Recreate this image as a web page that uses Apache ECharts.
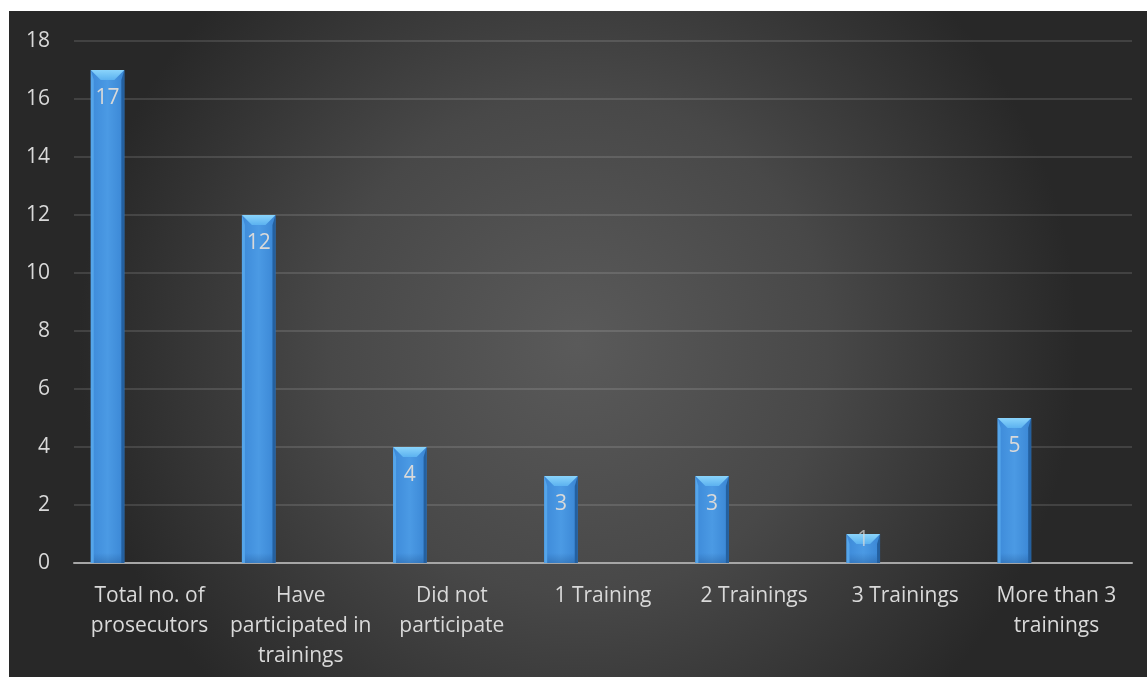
<!DOCTYPE html>
<html>
<head>
<meta charset="utf-8">
<script src="https://cdn.jsdelivr.net/npm/echarts@6/dist/echarts.min.js"></script>
<style>
  html, body { margin: 0; padding: 0; background: #ffffff; }
  #chart { position: absolute; left: 9px; top: 11px; width: 1138px; height: 666px; }
</style>
</head>
<body>
<div id="chart"></div>
<script>
// Prosecutors and their participation in trainings
const categories = [
  'Total no. of\nprosecutors',
  'Have\nparticipated in\ntrainings',
  'Did not\nparticipate',
  '1 Training',
  '2 Trainings',
  '3 Trainings',
  'More than 3\ntrainings'
];
const counts = [17, 12, 4, 3, 3, 1, 5];
const yTicks = { min: 0, max: 18, interval: 2 };

const FONT = '"Open Sans", Lato, sans-serif';
const TEXT = '#d9d9d9';

const chart = echarts.init(document.getElementById('chart'));

// Bevelled column: body, lit top facet, side shading, value label inside top
function renderColumn(params, api) {
  const idx = api.value(0);
  const val = api.value(1);
  const top = api.coord([idx, val]);
  const base = api.coord([idx, 0]);
  const band = api.size([1, 0])[0];
  const w = band * 0.222;
  const cx = top[0] - band * 0.278;
  const x0 = cx - w / 2;
  const x1 = cx + w / 2;
  const y0 = top[1];
  const y1 = base[1];
  const h = y1 - y0;
  const b = Math.min(10, h / 2);
  const labelY = h > 50 ? y0 + 28 : y0 + 6;
  const children = [
    {
      type: 'rect',
      shape: { x: x0, y: y0, width: w, height: h },
      style: {
        fill: new echarts.graphic.LinearGradient(0, 0, 1, 0, [
          { offset: 0, color: '#3d8ad9' },
          { offset: 0.5, color: '#4b9ae4' },
          { offset: 1, color: '#3a86d4' }
        ])
      }
    },
    { // soft bottom shading
      type: 'rect',
      shape: { x: x0, y: y1 - 10, width: w, height: 10 },
      style: {
        fill: new echarts.graphic.LinearGradient(0, 0, 0, 1, [
          { offset: 0, color: 'rgba(30,80,140,0)' },
          { offset: 1, color: 'rgba(30,80,140,0.35)' }
        ])
      }
    },
    { // left highlight
      type: 'polygon',
      shape: { points: [[x0, y0], [x0 + 3, y0 + b], [x0 + 3, y1], [x0, y1]] },
      style: { fill: '#55a5ea' }
    },
    { // right shade
      type: 'polygon',
      shape: { points: [[x1, y0], [x1 - 3, y0 + b], [x1 - 3, y1], [x1, y1]] },
      style: { fill: '#24609f' }
    },
    { // top facet
      type: 'polygon',
      shape: { points: [[x0, y0], [x1, y0], [x1 - b, y0 + b], [x0 + b, y0 + b]] },
      style: {
        fill: new echarts.graphic.LinearGradient(0, 0, 0, 1, [
          { offset: 0, color: '#8ad4fb' },
          { offset: 1, color: '#5cb2f0' }
        ])
      }
    },
    {
      type: 'text',
      style: {
        text: String(val),
        x: cx,
        y: labelY,
        align: 'center',
        verticalAlign: 'middle',
        fill: h > 50 ? TEXT : 'rgba(217,217,217,0.7)',
        font: '21px ' + FONT
      }
    }
  ];
  return { type: 'group', children: children };
}

chart.setOption({
  backgroundColor: {
    type: 'radial', x: 0.5, y: 0.5, r: 0.75,
    colorStops: [
      { offset: 0, color: '#5a5a5a' },
      { offset: 0.5, color: '#484848' },
      { offset: 1, color: '#282828' }
    ]
  },
  animation: false,
  grid: { left: 65, top: 30, right: 15, bottom: 114, containLabel: false },
  xAxis: {
    type: 'category',
    data: categories,
    axisLine: { lineStyle: { color: '#a6a6a6', width: 2 } },
    axisTick: { show: false },
    axisLabel: {
      interval: 0,
      color: TEXT,
      fontFamily: FONT,
      fontSize: 21,
      lineHeight: 30,
      margin: 18
    }
  },
  yAxis: {
    type: 'value',
    min: yTicks.min,
    max: yTicks.max,
    interval: yTicks.interval,
    axisLine: { show: false },
    axisTick: { show: false },
    axisLabel: { color: TEXT, fontFamily: FONT, fontSize: 21, margin: 24 },
    splitLine: { lineStyle: { color: 'rgba(255,255,255,0.12)', width: 2 } }
  },
  series: [{
    type: 'custom',
    renderItem: renderColumn,
    encode: { x: 0, y: 1 },
    data: counts.map((v, i) => [i, v])
  }]
});
</script>
</body>
</html>
